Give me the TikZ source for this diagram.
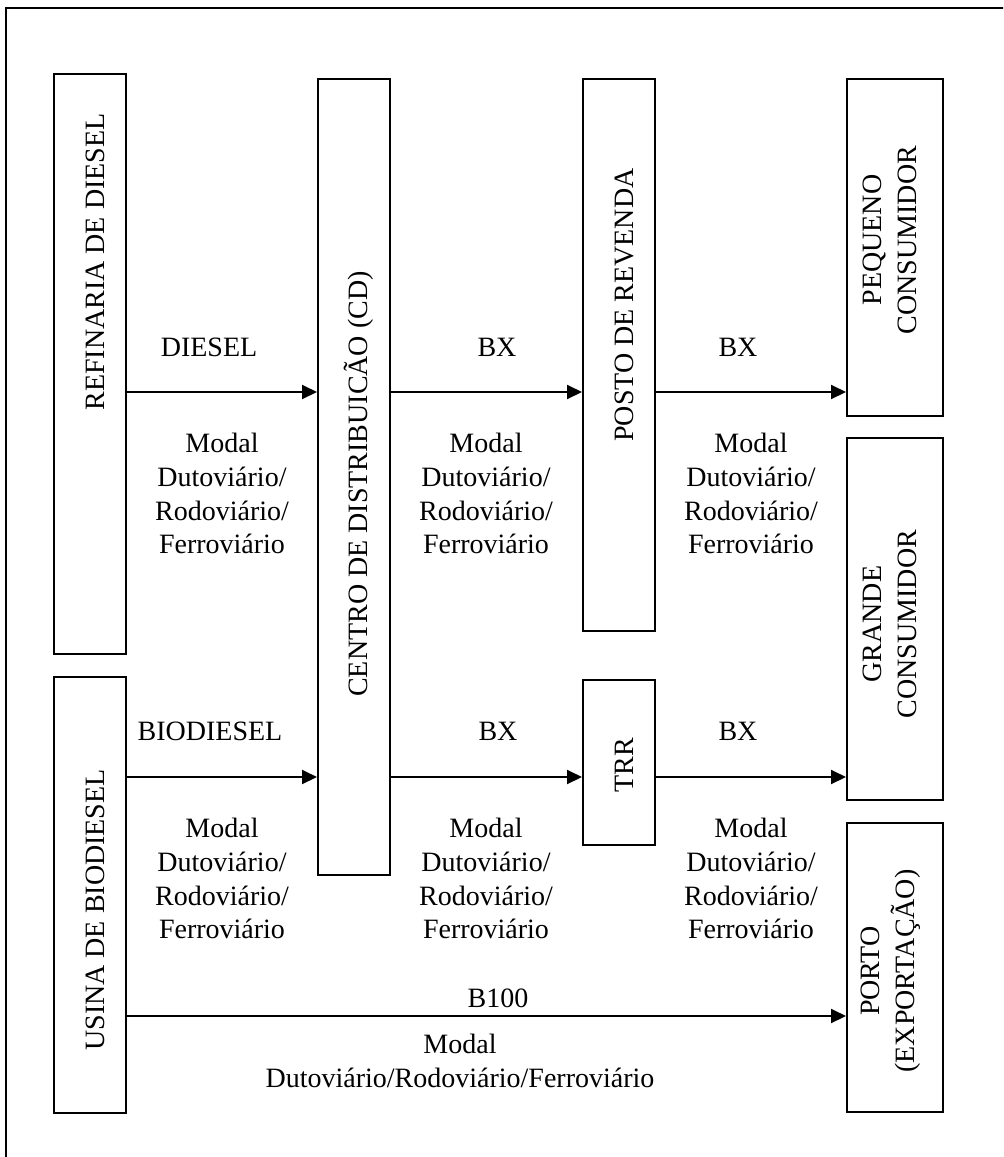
\documentclass[tikz,border=0pt]{standalone}
\usepackage{fontspec}
\setmainfont{Liberation Serif}
\usetikzlibrary{arrows.meta}

\begin{document}
\begin{tikzpicture}[x=0.5pt, y=-0.5pt,
  caixa/.style={draw, line width=1pt, inner sep=0pt},
  rotulo/.style={rotate=90, align=center, inner sep=0pt, font=\fontsize{14}{17.5}\selectfont},
  texto/.style={anchor=base, inner sep=0pt, font=\fontsize{14}{17}\selectfont},
  modal/.style={anchor=north, align=center, inner sep=0pt, font=\fontsize{14}{16.85}\selectfont},
  seta/.style={line width=1pt, -{Triangle[length=7.5pt,width=7pt]}}]
\clip (0,0) rectangle (1003,1157);
\draw[line width=1pt] (6,1170) -- (6,8) -- (1015,8);

\node[caixa, minimum width=36pt, minimum height=290pt] (refinaria) at (90,364) {};
\node[caixa, minimum width=36pt, minimum height=218pt] (usina) at (90,895) {};
\node[caixa, minimum width=36pt, minimum height=398pt] (centro) at (354,477) {};
\node[caixa, minimum width=36pt, minimum height=276pt] (posto) at (619,355) {};
\node[caixa, minimum width=36pt, minimum height=82.5pt] (trr) at (619,762.5) {};
\node[caixa, minimum width=48pt, minimum height=168.5pt] (pequeno) at (895,247.5) {};
\node[caixa, minimum width=48pt, minimum height=181pt] (grande) at (895,619) {};
\node[caixa, minimum width=48pt, minimum height=144.5pt] (porto) at (895,967.5) {};

\node[rotulo] (trefinaria) at (95,262) {REFINARIA DE DIESEL};
\node[rotulo] (tusina) at (95,910) {USINA DE BIODIESEL};
\node[rotulo] (tcentro) at (359,484) {CENTRO DE DISTRIBUICÃO (CD)};
\node[rotulo] (tposto) at (624,305) {POSTO DE REVENDA};
\node[rotulo] (ttrr) at (624,765) {TRR};
\node[rotulo] (tpequeno) at (890,240) {PEQUENO\\CONSUMIDOR};
\node[rotulo] (tgrande) at (890,624) {GRANDE\\CONSUMIDOR};
\node[rotulo] (tporto) at (891,971) {PORTO\\(EXPORTAÇÃO)};

\coordinate (a1) at (0,392);
\coordinate (a2) at (0,777);
\coordinate (a3) at (0,1016);
\foreach \a/\b/\c in {refinaria/centro/a1, centro/posto/a1, posto/pequeno/a1,
                      usina/centro/a2, centro/trr/a2, trr/grande/a2, usina/porto/a3}
  \draw[seta] (\a.east |- \c) -- (\b.west |- \c);

\node[texto] (diesel) at (209,356) {DIESEL};
\node[texto] (biodiesel) at (210,740) {BIODIESEL};
\foreach \x/\y [count=\i] in {497/356, 738/356, 498/740, 738/740}
  \node[texto] (bx\i) at (\x,\y) {BX};
\node[texto] (b100) at (498,1007) {B100};
\foreach \x/\y [count=\i] in {222/433, 486/433, 751/433, 222/818, 486/818, 751/818}
  \node[modal] (modal\i) at (\x,\y) {Modal\\Dutoviário/\\Rodoviário/\\Ferroviário};
\node[modal] (modal7) at (460,1034) {Modal\\Dutoviário/Rodoviário/Ferroviário};
\end{tikzpicture}
\end{document}
